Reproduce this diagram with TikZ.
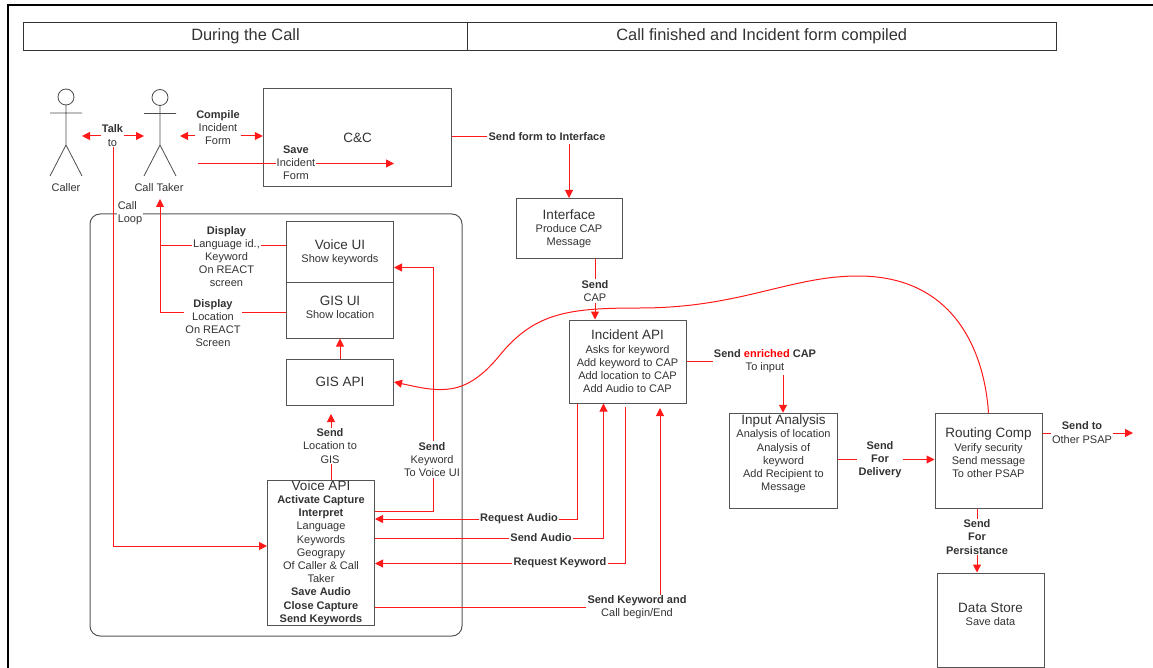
\documentclass[tikz,border=0pt]{standalone}
\usepackage{fontspec}
\setmainfont{Liberation Sans}
\usetikzlibrary{arrows.meta}
\definecolor{boxgray}{gray}{0.33}
\definecolor{textgray}{gray}{0.2}
\newcommand{\boxtitle}[1]{{\fontsize{13.5}{13.5}\selectfont #1}}
\tikzset{
	box/.style={draw=boxgray,fill=white,line width=1pt,inner sep=0pt,align=center,text=textgray,font=\fontsize{11}{13.2}\selectfont},
	header/.style={draw=black!80,fill=white,line width=1pt,inner sep=0pt,text=textgray,font=\fontsize{16.4}{18}\selectfont},
	lbl/.style={fill=white,inner sep=1pt,align=center,text=textgray,font=\fontsize{11}{13.2}\selectfont},
	stick/.style={draw=black!70,line width=0.8pt},
	wire/.style={draw=red!90!white,line width=1pt},
	wirearrow/.style={wire,-{Triangle[length=8pt,width=8pt]}}
}
\begin{document}
\begin{tikzpicture}[x=1pt,y=-1pt]
	\useasboundingbox (0,0) rectangle (1153,668);
	\draw [line width=2.5pt] (8,668) -- (8,5) -- (1153,5);

	\node [header,minimum width=444,minimum height=27.5] (during) at (245.5,36.5) {During the Call};
	\node [header,minimum width=588.5,minimum height=27.5] (finished) at (761.75,36.5) {Call finished and Incident form compiled};

	\draw [draw=boxgray,line width=1pt,rounded corners=10pt] (90,214) rectangle (462,636);

	\draw [stick] (66,97) circle (8);
	\draw [stick] (66,105) -- (66,145) (50,113) -- (82,113) (50,176) -- (66,145) -- (82,176);
	\node [lbl] (caller) at (66,187.5) {Caller};
	\draw [stick] (160,97.5) circle (8);
	\draw [stick] (160,105.5) -- (160,145) (144,113.5) -- (176,113.5) (144,176) -- (160,145) -- (176,176);
	\node [lbl] (calltaker) at (159,187.5) {Call Taker};

	\node [box,minimum width=188.5,minimum height=98] (cc) at (357.5,138) {\boxtitle{C\&C}};
	\node [box,minimum width=106,minimum height=60] (interface) at (569,228.5) {\boxtitle{Interface}\\Produce CAP\\Message};
	\node [box,minimum width=107,minimum height=60] (voiceui) at (340,252) {\boxtitle{Voice UI}\\Show keywords};
	\node [box,minimum width=107,minimum height=56] (gisui) at (340,310) {\boxtitle{GIS UI}\\Show location\\[-8pt]~};
	\node [box,minimum width=107,minimum height=46] (gisapi) at (340,382) {\boxtitle{GIS API}};
	\node [box,minimum width=107,minimum height=145] (voiceapi) at (321,552.5) {\boxtitle{Voice API}\\\textbf{Activate Capture}\\\textbf{Interpret}\\Language\\Keywords\\Geograpy\\Of Caller \& Call\\Taker\\\textbf{Save Audio}\\\textbf{Close Capture}\\\textbf{Send Keywords}};
	\node [box,minimum width=117,minimum height=83] (incident) at (627.5,361.5) {\boxtitle{Incident API}\\Asks for keyword\\Add keyword to CAP\\Add location to CAP\\Add Audio to CAP};
	\node [box,minimum width=108,minimum height=95.5] (input) at (783.5,461) {\boxtitle{Input Analysis}\\Analysis of location\\Analysis of\\keyword\\Add Recipient to\\Message\\[3pt]~};
	\node [box,minimum width=107,minimum height=95.5] (routing) at (988.5,461) {\boxtitle{Routing Comp}\\Verify security\\Send message\\To other PSAP\\[3pt]~};
	\node [box,minimum width=107,minimum height=94] (store) at (990.5,620) {\boxtitle{Data Store}\\Save data\\[-1pt]~};

	\node [lbl] (talk) at (112.5,135.5) {\textbf{Talk}\\to};
	\node [lbl] (compile) at (218,127.5) {\textbf{Compile}\\Incident\\Form};
	\node [lbl] (save) at (296,162.5) {\textbf{Save}\\Incident\\Form};
	\node [lbl] (sendform) at (547,137) {\textbf{Send form to Interface}};
	\node [lbl,align=left] (callloop) at (130,213) {Call\\Loop};
	\node [lbl] (displaylang) at (226.5,256.5) {\textbf{Display}\\Language id.,\\Keyword\\On REACT\\screen};
	\node [lbl] (displayloc) at (213,323) {\textbf{Display}\\Location\\On REACT\\Screen};
	\node [lbl] (sendcap) at (595,291) {\textbf{Send}\\CAP};
	\node [lbl] (enriched) at (765,361) {\textbf{Send \textcolor{red}{enriched} CAP}\\To input};
	\node [lbl] (sendloc) at (330,446) {\textbf{Send}\\Location to\\GIS};
	\node [lbl] (sendkey) at (432,459.5) {\textbf{Send}\\Keyword\\To Voice UI};
	\node [lbl] (delivery) at (880,459.5) {\textbf{Send}\\\textbf{For}\\\textbf{Delivery}};
	\node [lbl] (otherpsap) at (1082,432.5) {\textbf{Send to}\\Other PSAP};
	\node [lbl] (persist) at (977,537) {\textbf{Send}\\\textbf{For}\\\textbf{Persistance}};
	\node [lbl] (reqaudio) at (519,518.5) {\textbf{Request Audio}};
	\node [lbl] (sendaudio) at (541,538) {\textbf{Send Audio}};
	\node [lbl] (reqkey) at (560,562.5) {\textbf{Request Keyword}};
	\node [lbl] (sendcall) at (637,607.5) {\textbf{Send Keyword and}\\Call begin/End};

	\coordinate (callerhand) at (82,136);
	\coordinate (takerhand) at (144,136);
	\coordinate (takerright) at (180,136);
	\coordinate (loopcorner) at (113,546);
	\coordinate (savestart) at (198,163.5);
	\coordinate (saveend) at (394,163.5);
	\coordinate (takerfoot) at (160,199);
	\coordinate (langcorner) at (160,245.5);
	\coordinate (loccorner) at (160,312);
	\coordinate (keybottom) at (433,511.5);
	\coordinate (keytop) at (433,267.5);
	\coordinate (giscall) at (331,414);
	\coordinate (interfacetop) at (569,144);
	\coordinate (inputtop) at (783,375);
	\coordinate (psapend) at (1133,433);
	\coordinate (audiocorner) at (577,519);
	\coordinate (sentcorner) at (603.5,538.5);
	\coordinate (keystart) at (625,407);
	\coordinate (keycorner) at (625,563.5);
	\coordinate (callend) at (660,408);

	\draw [wirearrow] (talk.west |- callerhand) -- (callerhand);
	\draw [wirearrow] (talk.east |- takerhand) -- (takerhand);
	\draw [wirearrow] (talk.south -| loopcorner) -- (loopcorner) -- (voiceapi.west |- loopcorner);
	\draw [wirearrow] (compile.west |- takerright) -- (takerright);
	\draw [wirearrow] (compile.east |- takerright) -- (cc.west |- takerright);
	\draw [wire] (savestart) -- (savestart -| save.west);
	\draw [wirearrow] (save.east |- saveend) -- (saveend);
	\draw [wire] (cc.east |- sendform.west) -- (sendform.west);
	\draw [wirearrow] (interfacetop) -- (interface.north);
	\draw [wire] (voiceui.west |- langcorner) -- (displaylang.east |- langcorner);
	\draw [wirearrow] (displaylang.west |- langcorner) -- (langcorner) -- (takerfoot);
	\draw [wire] (gisui.west |- loccorner) -- (displayloc.east |- loccorner);
	\draw [wire] (displayloc.west |- loccorner) -- (loccorner) -- (langcorner);
	\draw [wirearrow] (gisapi.north) -- (gisui.south);
	\draw [wire] (voiceapi.north -| giscall) -- (sendloc.south -| giscall);
	\draw [wirearrow] (sendloc.north -| giscall) -- (giscall);
	\draw [wire] (voiceapi.east |- keybottom) -- (keybottom) -- (sendkey.south -| keybottom);
	\draw [wirearrow] (sendkey.north -| keytop) -- (keytop) -- (voiceui.east |- keytop);
	\draw [wire] (interface.south -| sendcap) -- (sendcap.north);
	\draw [wirearrow] (sendcap.south) -- (incident.north -| sendcap);
	\draw [wire] (incident.east |- enriched.west) -- (enriched.west);
	\draw [wirearrow] (inputtop) -- (input.north -| inputtop);
	\draw [wire] (input.east |- delivery.west) -- (delivery.west);
	\draw [wirearrow] (delivery.east) -- (routing.west |- delivery.east);
	\draw [wire] (routing.east |- psapend) -- (otherpsap.west |- psapend);
	\draw [wirearrow] (otherpsap.east |- psapend) -- (psapend);
	\draw [wire] (routing.south -| persist) -- (persist.north);
	\draw [wirearrow] (persist.south) -- (store.north -| persist);
	\draw [wire] (incident.south -| audiocorner) -- (audiocorner) -- (reqaudio.east |- audiocorner);
	\draw [wirearrow] (reqaudio.west |- audiocorner) -- (voiceapi.east |- audiocorner);
	\draw [wire] (voiceapi.east |- sentcorner) -- (sendaudio.west |- sentcorner);
	\draw [wirearrow] (sendaudio.east |- sentcorner) -- (sentcorner) -- (incident.south -| sentcorner);
	\draw [wire] (keystart) -- (keycorner) -- (reqkey.east |- keycorner);
	\draw [wirearrow] (reqkey.west |- keycorner) -- (voiceapi.east |- keycorner);
	\draw [wire] (voiceapi.east |- sendcall.west) -- (sendcall.west);
	\draw [wirearrow] (sendcall.north -| callend) -- (callend);
	\draw [wirearrow] (routing.north) .. controls (985,360) and (960,276) .. (858,276) .. controls (790,276) and (740,308) .. (640,308) .. controls (570,308) and (535,312) .. (500,355) .. controls (465,398) and (440,392) .. (gisapi.east);
\end{tikzpicture}
\end{document}
